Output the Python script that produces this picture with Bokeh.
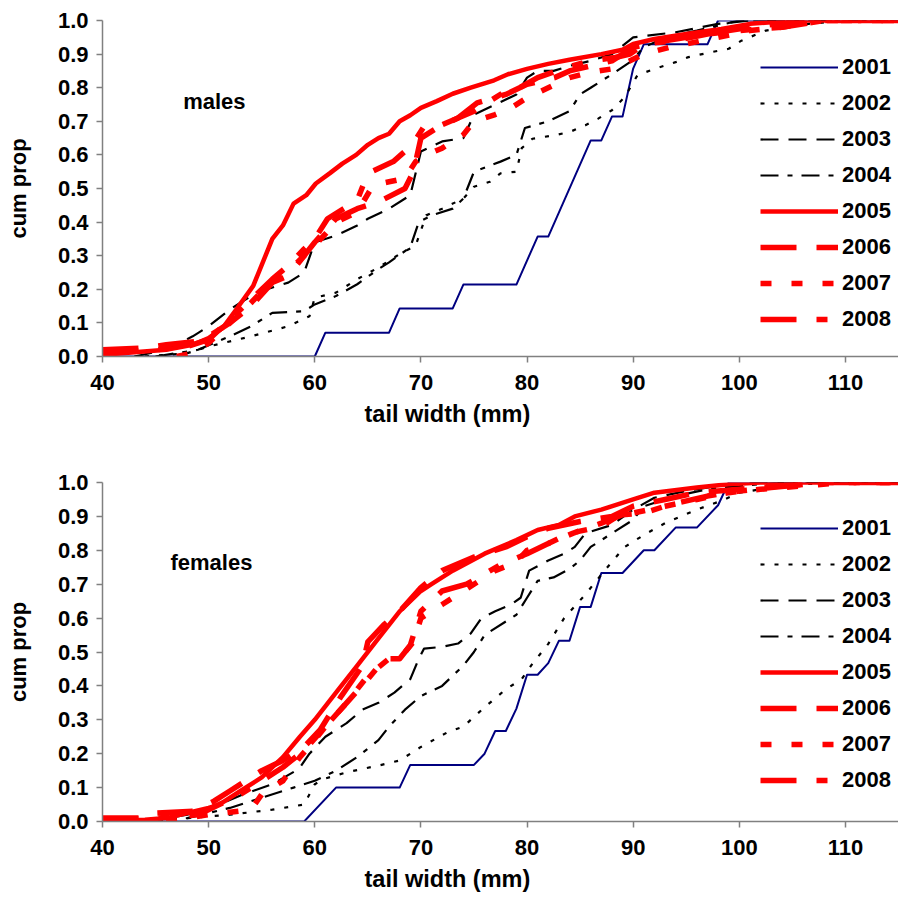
from bokeh.plotting import figure
from bokeh.layouts import column
from bokeh.models import FixedTicker, PrintfTickFormatter, Label, Legend, LegendItem, Title
from bokeh.embed import file_html
from bokeh.resources import INLINE

years = ["2001", "2002", "2003", "2004", "2005", "2006", "2007", "2008"]
x_ticks = [40, 50, 60, 70, 80, 90, 100, 110]
y_ticks = [0.0, 0.1, 0.2, 0.3, 0.4, 0.5, 0.6, 0.7, 0.8, 0.9, 1.0]

# ---------------- males ----------------
m2001_x = [40, 60, 61, 67, 68, 73, 74, 79, 81, 82, 86, 87, 88, 89, 90, 91, 97, 98, 115]
m2001_y = [0, 0, 0.071, 0.071, 0.143, 0.143, 0.214, 0.214, 0.357, 0.357, 0.643, 0.643, 0.714, 0.714, 0.857, 0.929, 0.929, 1.0, 1.0]

m2002_x = [44, 48, 50, 54, 57.5, 59.5, 60, 62, 64, 66, 68, 69.5, 70.5, 72, 74, 75, 76.5, 77.5, 79, 79.5, 80.5, 82.5, 84, 85.5, 86.7, 88, 89.2, 90.4, 92, 94, 95.2, 97.4, 99, 100.2, 102.5, 104.4, 106.5, 110, 115]
m2002_y = [0, 0.01, 0.03, 0.06, 0.09, 0.12, 0.175, 0.19, 0.23, 0.265, 0.305, 0.33, 0.42, 0.44, 0.47, 0.505, 0.52, 0.545, 0.55, 0.62, 0.648, 0.658, 0.668, 0.688, 0.708, 0.733, 0.772, 0.837, 0.856, 0.876, 0.891, 0.906, 0.916, 0.94, 0.97, 0.98, 0.99, 1.0, 1.0]

m2003_x = [43, 46, 48.5, 50, 52, 54, 55.5, 57.5, 59, 60, 62, 64, 65, 67, 69, 70, 72, 74, 75, 77, 79, 80, 81, 82.5, 84, 86, 88, 90, 94, 98, 101, 115]
m2003_y = [0, 0.02, 0.06, 0.09, 0.14, 0.18, 0.2, 0.22, 0.25, 0.34, 0.36, 0.39, 0.41, 0.44, 0.48, 0.61, 0.64, 0.65, 0.72, 0.75, 0.78, 0.83, 0.85, 0.85, 0.865, 0.88, 0.90, 0.95, 0.965, 0.99, 1.0, 1.0]

m2004_x = [45, 49, 52, 54, 56, 59, 60, 62, 64, 66, 67, 69, 69.8, 71, 73, 74, 75, 77.5, 79, 79.8, 82, 84, 85, 86, 88, 89.7, 91, 93, 96, 100, 115]
m2004_y = [0, 0.02, 0.06, 0.09, 0.13, 0.135, 0.155, 0.18, 0.215, 0.26, 0.28, 0.325, 0.40, 0.42, 0.44, 0.47, 0.55, 0.58, 0.60, 0.68, 0.70, 0.73, 0.78, 0.80, 0.84, 0.876, 0.92, 0.95, 0.97, 1.0, 1.0]

m2005_x = [40, 46, 48.5, 50, 51.3, 52.6, 54.2, 56, 57, 58, 59.2, 60.1, 61.4, 62.6, 63.9, 65, 66, 67, 68, 69, 70, 71.5, 73, 74.7, 76.9, 78.2, 80, 82, 84, 87, 89, 90, 92, 95, 98.3, 101, 105, 115]
m2005_y = [0.005, 0.02, 0.035, 0.055, 0.084, 0.14, 0.21, 0.35, 0.39, 0.455, 0.48, 0.515, 0.545, 0.574, 0.60, 0.63, 0.65, 0.663, 0.70, 0.718, 0.74, 0.76, 0.782, 0.80, 0.822, 0.84, 0.856, 0.871, 0.883, 0.90, 0.913, 0.93, 0.945, 0.96, 0.975, 0.99, 1.0, 1.0]

m2006_x = [40, 44, 46, 49, 50, 52, 54, 56, 57.5, 59, 60, 62, 64, 66, 68.5, 69.3, 70, 71.5, 73.5, 75.3, 78, 80, 82.6, 84, 86, 88, 90, 93, 97, 101, 106, 115]
m2006_y = [0.02, 0.025, 0.035, 0.045, 0.06, 0.10, 0.15, 0.22, 0.24, 0.30, 0.34, 0.41, 0.44, 0.46, 0.50, 0.55, 0.65, 0.68, 0.71, 0.755, 0.78, 0.81, 0.83, 0.85, 0.865, 0.88, 0.92, 0.94, 0.96, 0.98, 1.0, 1.0]

m2007_x = [47, 48.5, 50, 52, 54, 55.8, 57.4, 59, 60, 62, 64, 65.5, 67, 68.5, 69.5, 70.5, 72, 74, 75, 77, 78.5, 80, 82, 84, 86, 88, 89.7, 91, 93.4, 95, 98, 101, 104, 108, 115]
m2007_y = [0, 0.01, 0.04, 0.10, 0.16, 0.22, 0.25, 0.30, 0.33, 0.40, 0.43, 0.51, 0.52, 0.53, 0.58, 0.60, 0.62, 0.66, 0.70, 0.72, 0.74, 0.77, 0.80, 0.83, 0.846, 0.856, 0.88, 0.90, 0.92, 0.93, 0.95, 0.97, 0.98, 1.0, 1.0]

m2008_x = [40, 45, 48, 50, 52, 54, 56, 57.5, 59, 60, 61.2, 64, 65, 67.4, 69.2, 70.2, 72, 73.5, 75, 78, 79.3, 81, 83.7, 86, 88.3, 89.7, 91, 94, 97, 100, 104, 108, 115]
m2008_y = [0.01, 0.02, 0.03, 0.05, 0.11, 0.17, 0.23, 0.27, 0.32, 0.35, 0.41, 0.465, 0.545, 0.58, 0.63, 0.68, 0.69, 0.71, 0.73, 0.79, 0.80, 0.83, 0.86, 0.88, 0.89, 0.90, 0.93, 0.94, 0.96, 0.97, 0.98, 1.0, 1.0]

# ---------------- females ----------------
f2001_x = [40, 59, 62, 68, 69, 75, 76, 77, 78, 79, 80, 81, 82, 83, 84, 85, 86, 87, 89, 91, 92, 94, 96, 98, 99, 115]
f2001_y = [0, 0, 0.1, 0.1, 0.167, 0.167, 0.2, 0.267, 0.267, 0.333, 0.433, 0.433, 0.467, 0.533, 0.533, 0.633, 0.633, 0.733, 0.733, 0.8, 0.8, 0.867, 0.867, 0.933, 1.0, 1.0]

f2002_x = [44, 48, 52, 56, 59, 60, 61, 63, 66, 68, 70, 72.5, 74, 76, 78, 79.5, 80.5, 82, 83.5, 85.5, 87.3, 89.2, 91, 93, 96, 98.3, 100, 102, 106, 110, 115]
f2002_y = [0, 0.01, 0.02, 0.035, 0.05, 0.11, 0.127, 0.145, 0.165, 0.18, 0.22, 0.263, 0.28, 0.337, 0.39, 0.42, 0.465, 0.524, 0.60, 0.67, 0.74, 0.81, 0.845, 0.88, 0.92, 0.946, 0.97, 0.98, 0.995, 1.0, 1.0]

f2003_x = [44, 48, 51, 53, 56, 58.5, 59.5, 61, 63, 64.5, 66, 67.5, 69, 69.8, 70.3, 72, 73.5, 74.7, 75.7, 77, 78.5, 79.4, 80.2, 82, 83.5, 84.5, 85.5, 88, 90, 92, 95, 98, 102, 115]
f2003_y = [0, 0.02, 0.05, 0.077, 0.11, 0.155, 0.2, 0.25, 0.29, 0.33, 0.35, 0.38, 0.42, 0.48, 0.51, 0.515, 0.525, 0.555, 0.60, 0.62, 0.64, 0.66, 0.74, 0.77, 0.79, 0.81, 0.85, 0.875, 0.92, 0.955, 0.975, 0.99, 1.0, 1.0]

f2004_x = [44, 48, 52, 55, 58, 60, 62, 64, 66, 67, 68.5, 70, 72, 74, 75, 76, 78, 79, 80, 81, 82.5, 84, 85, 86, 88, 90, 91, 94, 97, 100, 104, 115]
f2004_y = [0, 0.01, 0.04, 0.07, 0.10, 0.12, 0.15, 0.19, 0.24, 0.28, 0.33, 0.37, 0.40, 0.46, 0.50, 0.55, 0.59, 0.61, 0.66, 0.71, 0.72, 0.745, 0.77, 0.81, 0.85, 0.89, 0.93, 0.96, 0.98, 0.99, 1.0, 1.0]

f2005_x = [40, 44, 46, 48, 50, 51, 53, 55, 57, 58.6, 60, 62, 64, 66, 68, 70, 71, 72, 73, 76, 79, 81, 83, 84.5, 87, 90, 92, 96, 99, 102, 115]
f2005_y = [0.0, 0.005, 0.01, 0.025, 0.04, 0.05, 0.09, 0.13, 0.19, 0.25, 0.30, 0.38, 0.46, 0.54, 0.62, 0.68, 0.70, 0.72, 0.74, 0.79, 0.83, 0.86, 0.875, 0.90, 0.92, 0.95, 0.97, 0.985, 0.995, 1.0, 1.0]

f2006_x = [40, 44, 45, 48.5, 50.5, 52, 55, 57, 59, 60.5, 62.5, 64.5, 65, 66.5, 68, 70, 72, 75, 78, 80, 82, 85, 88, 90, 93, 96, 100, 104, 108, 115]
f2006_y = [0.01, 0.01, 0.025, 0.03, 0.06, 0.09, 0.15, 0.18, 0.22, 0.27, 0.37, 0.46, 0.53, 0.58, 0.62, 0.69, 0.74, 0.78, 0.81, 0.84, 0.865, 0.885, 0.90, 0.93, 0.95, 0.97, 0.98, 0.99, 1.0, 1.0]

f2007_x = [46, 50, 54, 55, 57, 58.6, 60, 61, 63, 65, 67, 68.5, 69.3, 70, 72, 73, 75, 77, 79, 80, 82, 84, 87, 88.5, 90, 93, 96, 99, 102, 106, 110, 115]
f2007_y = [0, 0.02, 0.035, 0.08, 0.12, 0.19, 0.24, 0.28, 0.35, 0.43, 0.48, 0.50, 0.53, 0.60, 0.64, 0.66, 0.70, 0.74, 0.765, 0.80, 0.82, 0.85, 0.87, 0.90, 0.91, 0.93, 0.95, 0.97, 0.98, 0.99, 1.0, 1.0]

f2008_x = [40, 45, 49, 51, 53, 55, 57, 59, 61, 63, 65, 66.6, 68, 69, 70, 72, 74.3, 77.4, 80, 82, 84.3, 87, 89, 91, 93.5, 97, 100, 103, 108, 115]
f2008_y = [0.005, 0.01, 0.02, 0.05, 0.08, 0.12, 0.16, 0.21, 0.28, 0.35, 0.42, 0.48, 0.48, 0.52, 0.62, 0.68, 0.70, 0.756, 0.79, 0.82, 0.85, 0.88, 0.905, 0.91, 0.935, 0.96, 0.975, 0.985, 1.0, 1.0]

males_x = [m2001_x, m2002_x, m2003_x, m2004_x, m2005_x, m2006_x, m2007_x, m2008_x]
males_y = [m2001_y, m2002_y, m2003_y, m2004_y, m2005_y, m2006_y, m2007_y, m2008_y]
females_x = [f2001_x, f2002_x, f2003_x, f2004_x, f2005_x, f2006_x, f2007_x, f2008_x]
females_y = [f2001_y, f2002_y, f2003_y, f2004_y, f2005_y, f2006_y, f2007_y, f2008_y]

# styles
colors = ["#000080", "black", "black", "black", "#FF0000", "#FF0000", "#FF0000", "#FF0000"]
widths = [2, 2.2, 2.2, 2.2, 4.5, 5.5, 5.5, 5.5]
dashes = ["solid", "4 10", "18 10", "18 9 5 9", "solid", "36 20", "11 20", "36 20 11 20"]

FONT = "Liberation Sans"
FS = "22px"


def make_plot(xs, ys, title, tx, ty, b_top, b_bottom, leg_loc):
    p = figure(width=898, height=450, x_range=(40, 115), y_range=(0, 1),
               output_backend="svg", toolbar_location=None,
               min_border_left=102, min_border_right=0,
               min_border_top=b_top, min_border_bottom=b_bottom)
    p.outline_line_color = None
    p.xgrid.visible = False
    p.ygrid.visible = False
    p.background_fill_color = "white"
    p.border_fill_color = "white"

    items = []
    for i, yr in enumerate(years):
        r = p.line(xs[i], ys[i], line_color=colors[i], line_width=widths[i],
                   line_dash=dashes[i], line_join="round")
        items.append(LegendItem(label=yr, renderers=[r]))

    leg = Legend(items=items, location=leg_loc)
    leg.glyph_width = 78
    leg.glyph_height = 20
    leg.label_height = 20
    leg.spacing = 10
    leg.padding = 0
    leg.margin = 0
    leg.label_standoff = 4
    leg.background_fill_alpha = 0
    leg.border_line_alpha = 0
    leg.label_text_font = FONT
    leg.label_text_font_size = FS
    leg.label_text_font_style = "bold"
    leg.label_text_color = "black"
    p.add_layout(leg)

    for ax in (p.xaxis[0], p.yaxis[0]):
        ax.axis_line_color = "#808080"
        ax.axis_line_width = 1.5
        ax.major_tick_line_color = "#808080"
        ax.major_tick_line_width = 1.5
        ax.minor_tick_line_color = None
        ax.major_tick_in = 0
        ax.major_tick_out = 6
        ax.major_label_text_font = FONT
        ax.major_label_text_font_size = FS
        ax.major_label_text_font_style = "bold"
        ax.major_label_text_color = "black"
        ax.axis_label_text_font = FONT
        ax.axis_label_text_font_size = FS
        ax.axis_label_text_font_style = "bold"
        ax.axis_label_text_color = "black"

    p.xaxis.ticker = FixedTicker(ticks=x_ticks)
    p.yaxis.ticker = FixedTicker(ticks=y_ticks)
    p.yaxis.formatter = PrintfTickFormatter(format="%.1f")
    p.yaxis.axis_label = "cum prop"
    p.xaxis.major_label_standoff = 12
    p.yaxis.major_label_standoff = 8
    p.yaxis.axis_label_standoff = 24

    # x-axis title, placed where the original puts it (left of the frame centre)
    p.add_layout(Title(text="tail width (mm)", align="left", offset=262,
                       text_font=FONT, text_font_size="23.5px", text_font_style="bold",
                       text_color="black", standoff=12), "below")

    p.add_layout(Label(x=tx, y=ty, text=title, text_font=FONT,
                       text_font_size=FS, text_font_style="bold",
                       text_baseline="middle", text_color="black"))
    return p


p1 = make_plot(males_x, males_y, "males", 47.6, 0.76, 20, 94, (658, 24))
p2 = make_plot(females_x, females_y, "females", 46.4, 0.765, 32, 79, (658, 28))

layout = column(p1, p2, spacing=0)
open("out.html", "w").write(file_html(layout, INLINE))
